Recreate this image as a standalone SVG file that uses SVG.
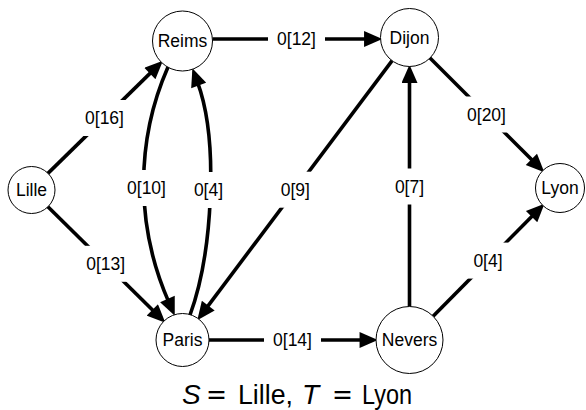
<svg xmlns="http://www.w3.org/2000/svg" width="586" height="410" viewBox="0 0 586 410">
<style>
.edge{fill:none;stroke:#000;stroke-width:3.6;marker-end:url(#arr)}
.node circle{fill:#fff;stroke:#000;stroke-width:1}
text{font-family:"Liberation Sans",Arial,sans-serif;fill:#000}
.nl{font-size:17.5px;text-anchor:middle}
.el{font-size:17.5px;text-anchor:middle}
.bg{fill:#fff;stroke:none}
.cap{font-size:28px}
.eq{font-family:"DejaVu Sans",sans-serif}
</style>
<defs>
<marker id="arr" markerUnits="userSpaceOnUse" markerWidth="20" markerHeight="16" refX="3" refY="7" orient="auto" viewBox="0 0 16 14"><path d="M0,0 L16,7 L0,14 z" fill="#000"/></marker>
</defs>
<rect width="586" height="410" fill="#fff"/>
<g id="connectors">
<path class="edge" d="M47.4,173.9 L152.3,71.1"/>
<path class="edge" d="M47.4,206.2 L154.8,312.3"/>
<path class="edge" d="M212.5,39 L367.5,39"/>
<path class="edge" d="M430,58 L533.8,161.8"/>
<path class="edge" d="M433.1,316.2 L534,214.3"/>
<path class="edge" d="M409.5,306.5 L409.5,79.5"/>
<path class="edge" d="M392.1,60.7 L206.2,308.4"/>
<path class="edge" d="M209,340 L363,340"/>
<path class="edge" d="M168,67 C135,142 135.8,227.1 168.8,302.1"/>
<path class="edge" d="M190,315 C212,255 219.5,142.2 197.5,82.2"/>
</g>
<g id="edge-labels">
<rect class="bg" x="76" y="100" width="57" height="36"/><text class="el" x="104.5" y="124">0[16]</text>
<rect class="bg" x="77.2" y="245.8" width="57" height="36"/><text class="el" x="105.7" y="269.8">0[13]</text>
<rect class="bg" x="268" y="21" width="57" height="36"/><text class="el" x="296.5" y="45">0[12]</text>
<rect class="bg" x="458" y="96.5" width="57" height="36"/><text class="el" x="486.5" y="120.5">0[20]</text>
<rect class="bg" x="464.5" y="242.6" width="47" height="36"/><text class="el" x="488" y="266.6">0[4]</text>
<rect class="bg" x="386" y="168.5" width="47" height="36"/><text class="el" x="409.5" y="192.5">0[7]</text>
<rect class="bg" x="271.8" y="171.7" width="47" height="36"/><text class="el" x="295.3" y="195.7">0[9]</text>
<rect class="bg" x="264" y="322" width="57" height="36"/><text class="el" x="292.5" y="346">0[14]</text>
<rect class="bg" x="118" y="170" width="57" height="36"/><text class="el" x="146.5" y="194">0[10]</text>
<rect class="bg" x="185" y="172" width="47" height="36"/><text class="el" x="208.5" y="196">0[4]</text>
</g>
<g id="node-lille" class="node"><circle cx="31.5" cy="190" r="23.5"/><text class="nl" x="31.5" y="196">Lille</text></g>
<g id="node-reims" class="node"><circle cx="182.5" cy="41" r="30"/><text class="nl" x="182.5" y="47">Reims</text></g>
<g id="node-dijon" class="node"><circle cx="409.5" cy="37.5" r="29"/><text class="nl" x="409.5" y="43.5">Dijon</text></g>
<g id="node-lyon" class="node"><circle cx="560" cy="188" r="24.5"/><text class="nl" x="560" y="194">Lyon</text></g>
<g id="node-paris" class="node"><circle cx="182.5" cy="340" r="26.5"/><text class="nl" x="182.5" y="346">Paris</text></g>
<g id="node-nevers" class="node"><circle cx="409.5" cy="340" r="33.5"/><text class="nl" x="409.5" y="346">Nevers</text></g>
<text class="cap" y="404"><tspan x="182" font-style="italic">S</tspan><tspan x="206" class="eq" textLength="21" lengthAdjust="spacingAndGlyphs">=</tspan><tspan x="238" textLength="55" lengthAdjust="spacingAndGlyphs">Lille,</tspan><tspan x="302" font-style="italic">T</tspan><tspan x="332" class="eq" textLength="21" lengthAdjust="spacingAndGlyphs">=</tspan><tspan x="362" textLength="50" lengthAdjust="spacingAndGlyphs">Lyon</tspan></text>
</svg>
